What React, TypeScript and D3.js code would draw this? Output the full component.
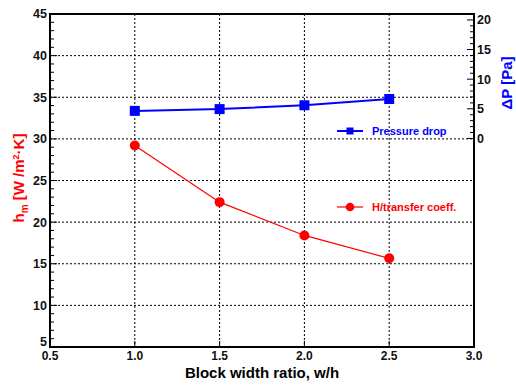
import React from "react";
import * as d3 from "d3";

const ratios = [1.0, 1.5, 2.0, 2.5];
const heatCoeff = [29.2, 22.4, 18.4, 15.65];
const pressureDrop = [4.65, 4.95, 5.6, 6.65];
const xTicks = [0.5, 1.0, 1.5, 2.0, 2.5, 3.0];
const leftTicks = [5, 10, 15, 20, 25, 30, 35, 40, 45];
const rightTicks = [0, 5, 10, 15, 20];
const legendLabels = ["Pressure drop", "H/transfer coeff."];

const W = 516;
const H = 387;
const L = 50, R = 474, T = 14, B = 347;

export default function App() {
  const x = d3.scaleLinear().domain([0.5, 3.0]).range([L, R]);
  const yL = d3.scaleLinear().domain([5, 45]).range([B, T]);
  const yR = d3.scaleLinear().domain([-35.2, 21]).range([B, T]);
  const font = "'Liberation Sans', Arial, sans-serif";
  const redLine = d3.line<number>().x((_, i) => x(ratios[i])).y((d) => yL(d));
  const blueLine = d3.line<number>().x((_, i) => x(ratios[i])).y((d) => yR(d));
  const leftMinor = d3.range(5, 45.01, 1);
  const rightMinor = d3.range(0, 20.01, 1);
  const gridX = xTicks.slice(1, -1);
  const gridY = leftTicks.slice(1, -1);
  return (
    <svg width={W} height={H} style={{ position: "absolute", left: 0, top: 0, background: "#fff" }} fontFamily={font}>
      {gridX.map((v) => (
        <line key={"gx" + v} x1={x(v)} x2={x(v)} y1={T} y2={B} stroke="#000" strokeWidth={1} strokeDasharray="2,2" />
      ))}
      {gridY.map((v) => (
        <line key={"gy" + v} x1={L} x2={R} y1={yL(v)} y2={yL(v)} stroke="#000" strokeWidth={1} strokeDasharray="2,2" />
      ))}
      {leftMinor.map((v) => (
        <line key={"lm" + v} x1={L} x2={L + (v % 5 === 0 ? 7 : 4)} y1={yL(v)} y2={yL(v)} stroke="#000" strokeWidth={1} />
      ))}
      {rightMinor.map((v) => (
        <line key={"rm" + v} x1={R} x2={R - (v % 5 === 0 ? 7 : 4)} y1={yR(v)} y2={yR(v)} stroke="#000" strokeWidth={1} />
      ))}
      {xTicks.map((v) => (
        <line key={"xt" + v} x1={x(v)} x2={x(v)} y1={B} y2={B - 6} stroke="#000" strokeWidth={1} />
      ))}
      <rect x={L} y={T} width={R - L} height={B - T} fill="none" stroke="#000" strokeWidth={2} />
      {leftTicks.map((v) => (
        <text key={"lt" + v} x={L - 3} y={v === 5 ? yL(v) - 5 : yL(v)} dy="0.35em" textAnchor="end" fontSize={12.5} fontWeight="bold" fill="#111">{v}</text>
      ))}
      {rightTicks.map((v) => (
        <text key={"rt" + v} x={R + 3} y={yR(v)} dy="0.35em" textAnchor="start" fontSize={12.5} fontWeight="bold" fill="#111">{v}</text>
      ))}
      {xTicks.map((v) => (
        <text key={"xl" + v} x={x(v)} y={B + 13} textAnchor="middle" fontSize={12} fontWeight="bold" fill="#111">{v.toFixed(1)}</text>
      ))}
      <text x={262} y={378} textAnchor="middle" fontSize={15} fontWeight="bold" fill="#000">Block width ratio, w/h</text>
      <text transform={`translate(24,178) rotate(-90)`} textAnchor="middle" fontSize={15} fontWeight="bold" fill="#ff0000">
        h<tspan fontSize={10} dy="4">m</tspan><tspan dy="-4"> [W /m</tspan><tspan fontSize={9} dy="-5">2</tspan><tspan dy="5">·K]</tspan>
      </text>
      <text transform={`translate(512,83) rotate(-90)`} textAnchor="middle" fontSize={15} fontWeight="bold" fill="#0000ff">ΔP  [Pa]</text>
      <path d={blueLine(pressureDrop) || ""} fill="none" stroke="#0000ff" strokeWidth={2} />
      {pressureDrop.map((v, i) => (
        <rect key={"bp" + i} x={x(ratios[i]) - 5} y={yR(v) - 5} width={10} height={10} fill="#0000ff" />
      ))}
      <path d={redLine(heatCoeff) || ""} fill="none" stroke="#ff0000" strokeWidth={1.2} />
      {heatCoeff.map((v, i) => (
        <circle key={"rp" + i} cx={x(ratios[i])} cy={yL(v)} r={5} fill="#ff0000" />
      ))}
      <line x1={337} x2={363} y1={131} y2={131} stroke="#0000ff" strokeWidth={2} />
      <rect x={346.5} y={127.5} width={7} height={7} fill="#0000ff" />
      <text x={372} y={131} dy="0.35em" fontSize={11} fontWeight="bold" fill="#0000ff">{legendLabels[0]}</text>
      <line x1={337} x2={363} y1={207} y2={207} stroke="#ff0000" strokeWidth={1.2} />
      <circle cx={350} cy={207} r={4.3} fill="#ff0000" />
      <text x={372} y={207} dy="0.35em" fontSize={11} fontWeight="bold" fill="#ff0000">{legendLabels[1]}</text>
    </svg>
  );
}
